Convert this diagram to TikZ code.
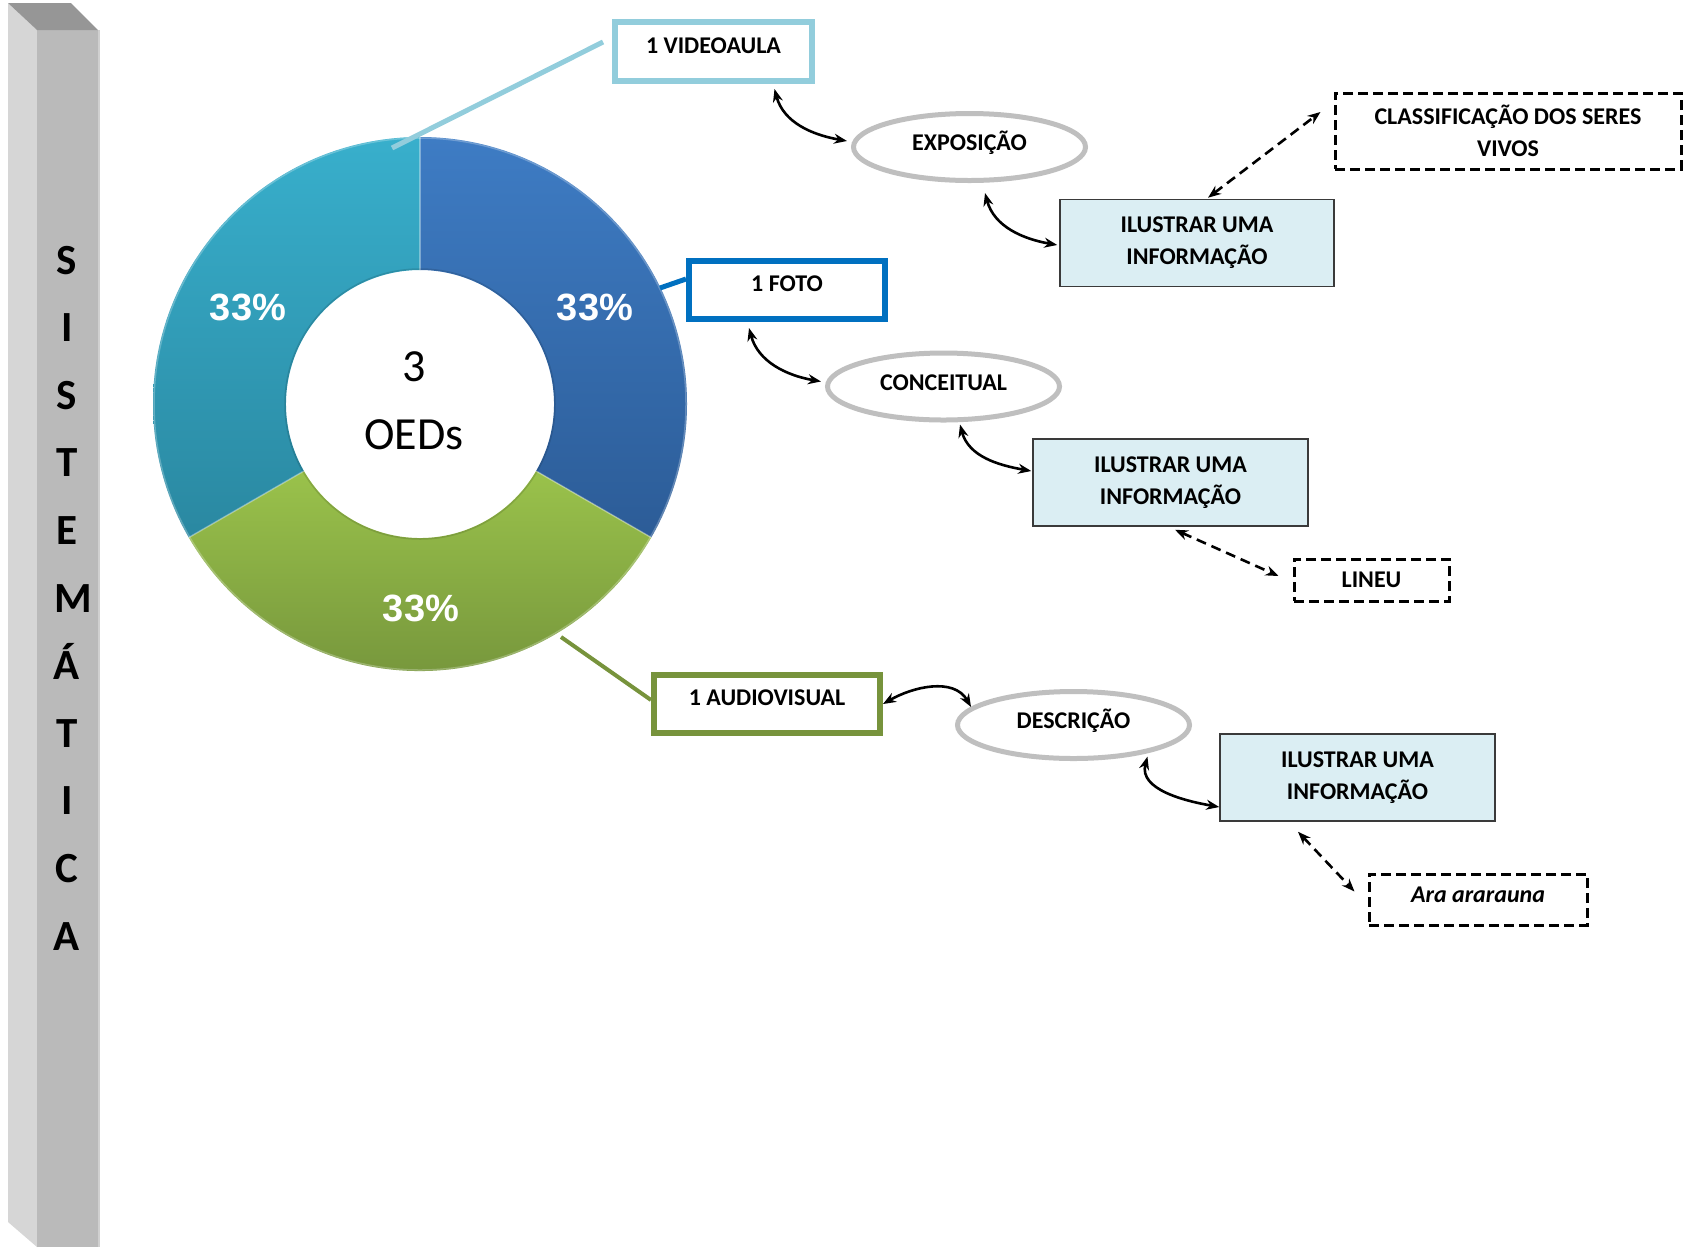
\documentclass[tikz,border=0pt]{standalone}
\usepackage{fontspec}
\setmainfont{Carlito}
\newfontfamily\pctfont{Liberation Sans}
\usetikzlibrary{arrows.meta,shapes.geometric,calc}

\definecolor{barleft}{HTML}{D6D6D6}
\definecolor{barfront}{HTML}{BABABA}
\definecolor{bartop}{HTML}{969696}
\definecolor{tealtop}{HTML}{38AFCC}
\definecolor{tealbot}{HTML}{2A88A1}
\definecolor{bluetop}{HTML}{3E7CC4}
\definecolor{bluebot}{HTML}{2C5C97}
\definecolor{greentop}{HTML}{9AC24B}
\definecolor{greenbot}{HTML}{71903A}
\definecolor{vidline}{HTML}{92CDDC}
\definecolor{fotoline}{HTML}{0070C0}
\definecolor{audline}{HTML}{77933C}
\definecolor{ellgray}{HTML}{BFBFBF}
\definecolor{infofill}{HTML}{DBEEF3}
\definecolor{infoline}{HTML}{3A3A3A}

\begin{document}
\begin{tikzpicture}[x=1pt,y=1pt,
  sysletter/.style={font=\fontsize{43}{43}\selectfont\bfseries, inner sep=0pt},
  pct/.style={font=\pctfont\fontsize{38}{38}\selectfont\bfseries, text=white, inner sep=0pt},
  oedbox/.style={draw, line width=6pt, rectangle, minimum height=58pt, inner sep=0pt,
    font=\fontsize{24}{29}\selectfont\bfseries, text height=17pt, text depth=13.6pt},
  topic/.style={ellipse, draw=ellgray, line width=5pt, fill=white, minimum width=232pt,
    minimum height=67pt, inner sep=0pt, font=\fontsize{24}{29}\selectfont\bfseries,
    text height=17pt, text depth=10pt},
  infobox/.style={rectangle, draw=infoline, line width=1.5pt, fill=infofill,
    minimum width=274pt, minimum height=87pt, inner sep=0pt, align=center,
    font=\fontsize{24}{32}\selectfont\bfseries},
  example/.style={rectangle, draw, line width=3pt, dash pattern=on 10pt off 5pt,
    inner sep=0pt, align=center, font=\fontsize{24}{32}\selectfont\bfseries},
  biarrow/.style={{Stealth[length=13pt,width=10pt]}-{Stealth[length=13pt,width=10pt]},
    line width=2.6pt},
  dasharrow/.style={biarrow, dash pattern=on 10pt off 6pt}]

\useasboundingbox (0,0) rectangle (1685,-1251);

% three-dimensional side bar
\fill[barleft] (8,-3) -- (37,-30) -- (37,-1247) -- (8,-1222) -- cycle;
\fill[barfront] (37,-30) rectangle (98,-1247);
\fill[bartop] (8,-3) -- (71,-3) -- (98,-30) -- (37,-30) -- cycle;
\fill[barleft!80!barfront] (98,-30) rectangle (100,-1247);
\foreach \ch/\dx [count=\k from 0] in {S/0,I/0,S/0,T/0,E/0,M/6,Á/0,T/0,I/0,C/0,A/0}
  \node[sysletter, anchor=base] (let\k) at ({67+\dx},{-274-67.6*\k}) {\ch};

% doughnut chart
\coordinate (dc) at (420,-404);
\def\Ro{267}
\def\Ri{134}
\shade[top color=bluetop, bottom color=bluebot]
  ($(dc)+(90:\Ro)$) arc[start angle=90, end angle=-30, radius=\Ro]
  -- ($(dc)+(-30:\Ri)$) arc[start angle=-30, end angle=90, radius=\Ri] -- cycle;
\shade[top color=greentop, bottom color=greenbot]
  ($(dc)+(-30:\Ro)$) arc[start angle=-30, end angle=-150, radius=\Ro]
  -- ($(dc)+(-150:\Ri)$) arc[start angle=-150, end angle=-30, radius=\Ri] -- cycle;
\shade[top color=tealtop, bottom color=tealbot]
  ($(dc)+(90:\Ro)$) arc[start angle=90, end angle=210, radius=\Ro]
  -- ($(dc)+(210:\Ri)$) arc[start angle=210, end angle=90, radius=\Ri] -- cycle;
\foreach \a in {90,-30,210}
  \draw[white, opacity=0.35, line width=1.5pt] ($(dc)+(\a:\Ri)$) -- ($(dc)+(\a:\Ro)$);
\draw[white, opacity=0.25, line width=1.5pt] (dc) circle[radius=\Ro-1];
\draw[black, opacity=0.12, line width=1.5pt] (dc) circle[radius=\Ri+1];

\node[pct] (pteal) at (248,-307) {33\%};
\node[pct] (pblue) at (595,-307) {33\%};
\node[pct] (pgreen) at (421,-608) {33\%};
\node[align=center, inner sep=0pt, font=\fontsize{46}{68}\selectfont] (total) at (414,-401) {3\\OEDs};

% kinds of digital objects
\node[oedbox, draw=vidline, minimum width=197pt, minimum height=59pt] (vid) at (713.5,-51.5) {1 VIDEOAULA};
\node[oedbox, draw=fotoline, minimum width=196pt] (foto) at (787,-290) {1 FOTO};
\node[oedbox, draw=audline, minimum width=226pt] (aud) at (767,-704) {1 AUDIOVISUAL};

% leader lines from the chart
\coordinate (lv) at (392,-148);
\coordinate (lvend) at ($(vid.west)+(-9,9.5)$);
\draw[vidline, line width=5pt] (lv) -- (lvend);
\coordinate (lf) at (660,-288);
\draw[fotoline, line width=5pt] (lf) -- ($(foto.west)+(0,11)$);
\coordinate (la) at (561,-637);
\draw[audline, line width=4pt] (la) -- ($(aud.west)+(0,4)$);

% purposes
\node[topic] (expo) at (969.5,-147) {EXPOSIÇÃO};
\node[topic] (conc) at (943.5,-386.5) {CONCEITUAL};
\node[topic] (desc) at (1073.5,-725) {DESCRIÇÃO};

\node[infobox] (ilu1) at (1197,-243) {ILUSTRAR UMA\\INFORMAÇÃO};
\node[infobox, minimum width=275pt] (ilu2) at (1170.5,-482.5) {ILUSTRAR UMA\\INFORMAÇÃO};
\node[infobox, minimum width=275pt] (ilu3) at (1357.5,-777.5) {ILUSTRAR UMA\\INFORMAÇÃO};

\node[example, minimum width=346pt, minimum height=76pt] (cls) at (1508,-131) {CLASSIFICAÇÃO DOS SERES\\VIVOS};
\node[example, minimum width=155pt, minimum height=42pt] (lineu) at (1371.5,-580) {LINEU};
\node[example, minimum width=218pt, minimum height=51pt, text height=17pt, text depth=12pt] (ara) at (1478,-899.5) {\itshape Ara ararauna};

% connectors
\draw[biarrow] ($(vid.south)+(61,-5)$) to[out=-75, in=170] ($(expo.west)+(-4,6)$);
\draw[biarrow] ($(expo.south)+(15.5,-10)$) to[out=-75, in=170] ($(ilu1.west)+(-2,-2)$);
\draw[dasharrow] ($(ilu1.north)+(11,1)$) -- ($(cls.west)+(-13,19)$);

\draw[biarrow] ($(foto.south)+(-38,-6)$) to[out=-75, in=170] ($(conc.west)+(-4,5)$);
\draw[biarrow] ($(conc.south)+(16.5,-2)$) to[out=-75, in=170] ($(ilu2.west)+(-1,11.5)$);
\draw[dasharrow] ($(ilu2.south)+(4.5,-3)$) -- ($(lineu.west)+(-14,4)$);

\draw[biarrow] (aud.east) to[out=30, in=120] (desc.170);
\draw[biarrow] ($(desc.-20)+(-2,-4)$) to[out=-105, in=170] ($(ilu3.west)+(0,-29.5)$);
\draw[dasharrow] ($(ilu3.south)+(-59.5,-10)$) -- ($(ara.west)+(-13,8)$);
\end{tikzpicture}
\end{document}
